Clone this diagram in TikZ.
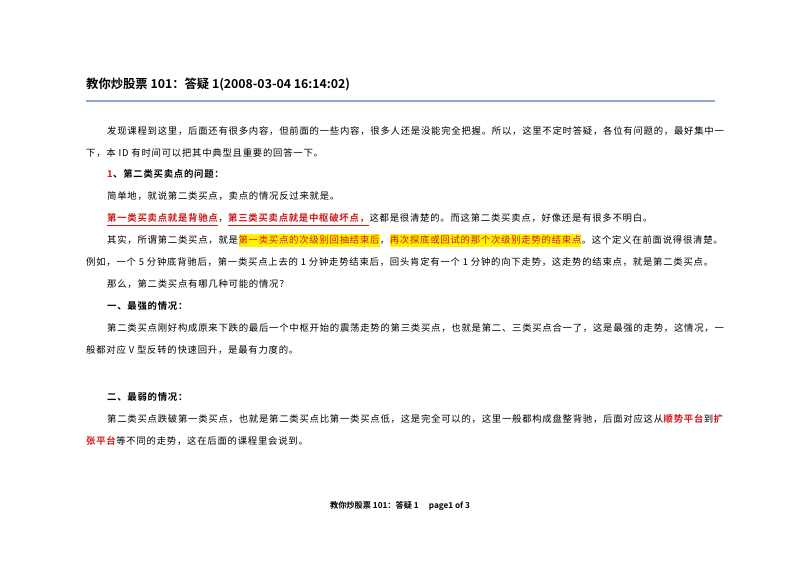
\documentclass[tikz,border=0pt]{standalone}
\usepackage{fontspec}
\usetikzlibrary{positioning,calc}
\setmainfont{Noto Sans CJK SC}[BoldFont={Noto Sans CJK SC Bold}]
\newfontfamily\bodyfont{Noto Sans CJK SC}[LetterSpace=8,BoldFont={Noto Sans CJK SC Bold}]
\definecolor{rulecol}{RGB}{140,165,205}
\definecolor{hired}{RGB}{205,25,25}
\tikzset{
  txt/.style={anchor=base west, inner sep=0pt, font=\bodyfont\fontsize{8}{10}\selectfont},
  next/.style={txt, anchor=base west},
  hl/.style={next, fill=yellow, inner ysep=1.5pt, text=hired},
  red/.style={next, text=hired, font=\bodyfont\bfseries\fontsize{8}{10}\selectfont},
  uline/.style={hired, line width=0.6pt}
}
\begin{document}
\begin{tikzpicture}[x=0.03cm, y=-0.03cm]
\useasboundingbox (0,0) rectangle (800,566);
\fill[white] (0,0) rectangle (800,566);
% heading and rule
\node[txt, font=\bfseries\fontsize{10.5}{12}\selectfont] (title) at (86,89) {教你炒股票 101：答疑 1(2008-03-04 16:14:02)};
\coordinate (ruleL) at (86,101);
\coordinate (ruleR) at (715,101);
\draw[rulecol, line width=1pt] (ruleL) -- (ruleR);
% body
\node[txt] (l1) at (107,135) {发现课程到这里，后面还有很多内容，但前面的一些内容，很多人还是没能完全把握。所以，这里不定时答疑，各位有问题的，最好集中一};
\node[txt] (l2) at (86,157) {下，本 ID 有时间可以把其中典型且重要的回答一下。};
\node[red] (l3a) at (107,178) {1};
\node[next, font=\bodyfont\bfseries\fontsize{8}{10}\selectfont] (l3b) at (l3a.base east) {、第二类买卖点的问题：};
\node[txt] (l4) at (107,200) {简单地，就说第二类买点，卖点的情况反过来就是。};
\node[red] (l5a) at (107,222) {第一类买卖点就是背驰点};
\node[next] (l5b) at (l5a.base east) {，};
\node[red] (l5c) at (l5b.base east) {第三类买卖点就是中枢破坏点，};
\node[next] (l5d) at (l5c.base east) {这都是很清楚的。而这第二类买卖点，好像还是有很多不明白。};
\draw[uline] ($(l5a.base west)+(0,3)$) -- ($(l5a.base east)+(0,3)$);
\draw[uline] ($(l5c.base west)+(0,3)$) -- ($(l5c.base east)+(0,3)$);
\node[txt] (l6a) at (107,244) {其实，所谓第二类买点，就是};
\node[hl] (l6b) at (l6a.base east) {第一类买点的次级别回抽结束后};
\node[next] (l6c) at (l6b.base east) {，};
\node[hl] (l6d) at (l6c.base east) {再次探底或回试的那个次级别走势的结束点};
\node[next] (l6e) at (l6d.base east) {。这个定义在前面说得很清楚。};
\node[txt] (l7) at (86,266) {例如，一个 5 分钟底背驰后，第一类买点上去的 1 分钟走势结束后，回头肯定有一个 1 分钟的向下走势，这走势的结束点，就是第二类买点。};
\node[txt] (l8) at (107,288) {那么，第二类买点有哪几种可能的情况？};
\node[txt, font=\bodyfont\bfseries\fontsize{8}{10}\selectfont] (l9) at (107,310) {一、最强的情况：};
\node[txt] (l10) at (107,332) {第二类买点刚好构成原来下跌的最后一个中枢开始的震荡走势的第三类买点，也就是第二、三类买点合一了，这是最强的走势，这情况，一};
\node[txt] (l11) at (86,354) {般都对应 V 型反转的快速回升，是最有力度的。};
\node[txt, font=\bodyfont\bfseries\fontsize{8}{10}\selectfont] (l12) at (107,400) {二、最弱的情况：};
\node[txt] (l13a) at (107,422) {第二类买点跌破第一类买点，也就是第二类买点比第一类买点低，这是完全可以的，这里一般都构成盘整背驰，后面对应这从};
\node[red] (l13b) at (l13a.base east) {顺势平台};
\node[next] (l13c) at (l13b.base east) {到};
\node[red] (l13d) at (l13c.base east) {扩};
\node[red] (l14a) at (86,444) {张平台};
\node[next] (l14b) at (l14a.base east) {等不同的走势，这在后面的课程里会说到。};
% footer
\node[anchor=base, inner sep=0pt, font=\bfseries\fontsize{7}{8}\selectfont] (foot) at (400,508) {教你炒股票 101：答疑 1\quad\ page1 of 3};
\end{tikzpicture}
\end{document}
